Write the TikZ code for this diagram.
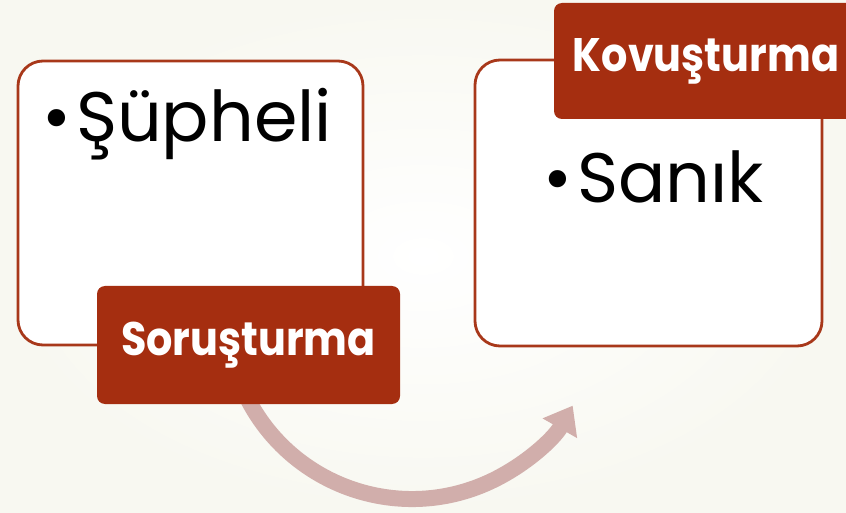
\documentclass[tikz,border=0pt]{standalone}
\usepackage{fontspec}
\setmainfont{Poppins}
\newfontfamily\labelfont[FakeStretch=0.88]{Poppins}
\usetikzlibrary{arrows.meta,calc}
\definecolor{rust}{HTML}{A52E10}
\definecolor{rustline}{HTML}{A8381A}
\definecolor{arrowpink}{HTML}{D1AEAB}
\definecolor{bgedge}{HTML}{F8F8F1}
\begin{document}
\begin{tikzpicture}[x=1pt,y=1pt,
  outerbox/.style={draw=rustline,line width=2.8pt,fill=white,rounded corners=25pt},
  labelbox/.style={fill=rust,rounded corners=8pt},
  labeltext/.style={text=white,font=\labelfont\fontsize{47}{54}\selectfont\bfseries,inner sep=0pt},
  itemtext/.style={text=black,font=\fontsize{70}{80}\selectfont,inner sep=0pt,anchor=base west},
  flowarrow/.style={draw=arrowpink,line width=16pt,-{Triangle[length=26pt,width=38pt]}}]
\useasboundingbox (0,0) rectangle (846,512);
\shade[inner color=white,outer color=bgedge] (0,0) rectangle (846,512);
% boxes
\draw[outerbox] (18,451) rectangle (363,167);
\node[inner sep=0pt,minimum width=345pt,minimum height=284pt] (leftbox) at (190.5,309) {};
\draw[outerbox] (475,452) rectangle (822,166);
\node[inner sep=0pt,minimum width=347pt,minimum height=286pt] (rightbox) at (648.5,309) {};
% arrow
\coordinate (arccenter) at (412,198);
\coordinate (arcstart) at ($(arccenter)+(205:185)$);
\draw[flowarrow] (arcstart) arc[start angle=205,end angle=330.3,radius=185];
% labels
\node[labelbox,minimum width=303pt,minimum height=118pt] (sorbox) at (248.5,167) {};
\node[labeltext] (sortext) at (sorbox.center) {Soruşturma};
\node[labelbox,minimum width=304pt,minimum height=116pt] (kovbox) at (706,451) {};
\node[labeltext] (kovtext) at (kovbox.center) {Kovuşturma};
% items
\node[itemtext] (supheli) at (42,370) {•\hspace{5pt}Şüpheli};
\node[itemtext] (sanik) at (543,309) {•\hspace{5pt}Sanık};
\end{tikzpicture}
\end{document}
